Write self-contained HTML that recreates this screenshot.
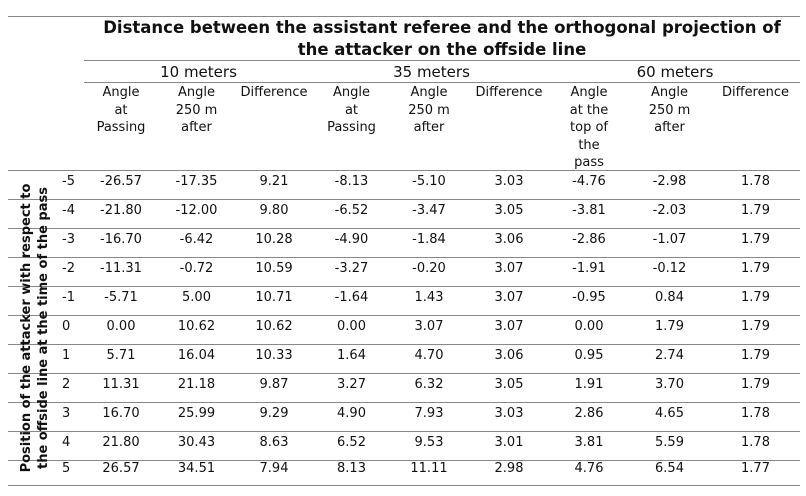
<!DOCTYPE html>
<html><head><meta charset="utf-8"><style>
body{margin:0;width:806px;height:496px;background:#fff;position:relative;font-family:"DejaVu Sans","Liberation Sans",sans-serif;color:#111;overflow:hidden}
.l{position:absolute;height:1px;background:#888}
.t{position:absolute;text-align:center;font-size:13px;line-height:17.5px;white-space:nowrap}
.title{position:absolute;left:84px;width:716px;top:17px;text-align:center;font-weight:bold;font-size:16.5px;line-height:22px}
.row{position:absolute;left:0;width:806px;height:20px;font-size:13px;line-height:20px}
.row span{position:absolute;text-align:center}
.rot{position:absolute;left:35px;top:328px;width:300px;transform:translate(-50%,-50%) rotate(-90deg);font-weight:bold;font-size:13px;line-height:17px;text-align:center}
</style></head><body>
<div class="l" style="left:8px;width:792px;top:16px"></div>
<div class="title">Distance between the assistant referee and the orthogonal projection of<br>the attacker on the offside line</div>
<div class="l" style="left:84px;width:716px;top:60px"></div>
<div class="t" style="left:84px;width:229px;top:62px;font-size:15px;line-height:20px">10 meters</div>
<div class="t" style="left:313px;width:237px;top:62px;font-size:15px;line-height:20px">35 meters</div>
<div class="t" style="left:550px;width:250px;top:62px;font-size:15px;line-height:20px">60 meters</div>
<div class="l" style="left:84px;width:716px;top:82px"></div>
<div class="t" style="left:84px;width:74px;top:84px">Angle<br>at<br>Passing</div>
<div class="t" style="left:158px;width:77px;top:84px">Angle<br>250 m<br>after</div>
<div class="t" style="left:235px;width:78px;top:84px">Difference</div>
<div class="t" style="left:313px;width:77px;top:84px">Angle<br>at<br>Passing</div>
<div class="t" style="left:390px;width:78px;top:84px">Angle<br>250 m<br>after</div>
<div class="t" style="left:468px;width:82px;top:84px">Difference</div>
<div class="t" style="left:550px;width:78px;top:84px">Angle<br>at the<br>top of<br>the<br>pass</div>
<div class="t" style="left:628px;width:83px;top:84px">Angle<br>250 m<br>after</div>
<div class="t" style="left:711px;width:89px;top:84px">Difference</div>
<div class="l" style="left:8px;width:792px;top:170px"></div>
<div class="l" style="left:8px;width:792px;top:199px"></div>
<div class="l" style="left:8px;width:792px;top:228px"></div>
<div class="l" style="left:8px;width:792px;top:257px"></div>
<div class="l" style="left:8px;width:792px;top:286px"></div>
<div class="l" style="left:8px;width:792px;top:315px"></div>
<div class="l" style="left:8px;width:792px;top:344px"></div>
<div class="l" style="left:8px;width:792px;top:373px"></div>
<div class="l" style="left:8px;width:792px;top:402px"></div>
<div class="l" style="left:8px;width:792px;top:431px"></div>
<div class="l" style="left:8px;width:792px;top:460px"></div>
<div class="l" style="left:8px;width:792px;top:485px"></div>
<div class="rot">Position of the attacker with respect to<br>the offside line at the time of the pass</div>
<div id="rows"></div>
<script>
(function(){
var d=[["-5","-26.57","-17.35","9.21","-8.13","-5.10","3.03","-4.76","-2.98","1.78"],
["-4","-21.80","-12.00","9.80","-6.52","-3.47","3.05","-3.81","-2.03","1.79"],
["-3","-16.70","-6.42","10.28","-4.90","-1.84","3.06","-2.86","-1.07","1.79"],
["-2","-11.31","-0.72","10.59","-3.27","-0.20","3.07","-1.91","-0.12","1.79"],
["-1","-5.71","5.00","10.71","-1.64","1.43","3.07","-0.95","0.84","1.79"],
["0","0.00","10.62","10.62","0.00","3.07","3.07","0.00","1.79","1.79"],
["1","5.71","16.04","10.33","1.64","4.70","3.06","0.95","2.74","1.79"],
["2","11.31","21.18","9.87","3.27","6.32","3.05","1.91","3.70","1.79"],
["3","16.70","25.99","9.29","4.90","7.93","3.03","2.86","4.65","1.78"],
["4","21.80","30.43","8.63","6.52","9.53","3.01","3.81","5.59","1.78"],
["5","26.57","34.51","7.94","8.13","11.11","2.98","4.76","6.54","1.77"]];
var b=[84,158,235,313,390,468,550,628,711,800],h="";
for(var i=0;i<d.length;i++){var ty=(i<10?172+29*i:459);
h+='<div class="row" style="top:'+ty+'px"><span style="left:62px;text-align:left">'+d[i][0]+'</span>';
for(var j=1;j<10;j++)h+='<span style="left:'+b[j-1]+'px;width:'+(b[j]-b[j-1])+'px">'+d[i][j]+'</span>';
h+='</div>';}
document.getElementById('rows').innerHTML=h;
})();
</script>
</body></html>
